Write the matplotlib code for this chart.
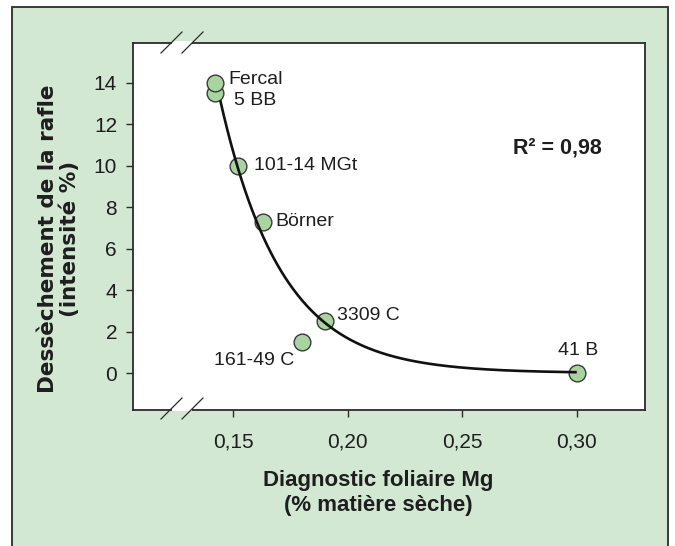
import numpy as np
import matplotlib
matplotlib.use("Agg")
import matplotlib.pyplot as plt
from matplotlib.patches import Rectangle
from matplotlib.lines import Line2D

plt.rcParams['font.family'] = ['Liberation Sans', 'DejaVu Sans']

# Data
cultivars = ["5 BB", "Fercal", "101-14 MGt", "Börner", "3309 C", "161-49 C", "41 B"]
mg = [0.142, 0.142, 0.152, 0.163, 0.190, 0.180, 0.300]
dessechement = [13.5, 14.0, 10.0, 7.3, 2.5, 1.5, 0.0]
# label offsets (points) and alignments
label_offsets = [(13.5, -5.3), (9.9, 1.9), (11.3, 0), (9.1, 0), (8.6, 4.1), (-5.5, -13.2), (0.9, 16.3)]
label_ha = ["left", "left", "left", "left", "left", "right", "center"]

# exponential fit y = A * exp(-k * (x - x0))
fit_A = 10.0
fit_k = 37.0
fit_x0 = 0.1517
fit_xmin, fit_xmax = 0.1443, 0.300
r2_text = "R² = 0,98"

xticks = [0.15, 0.20, 0.25, 0.30]
xticklabels = ["0,15", "0,20", "0,25", "0,30"]
yticks = [0, 2, 4, 6, 8, 10, 12, 14]

W, H = 675, 546
fig = plt.figure(figsize=(W / 100, H / 100), dpi=100)
fig.patch.set_facecolor("white")

green_bg = "#d3e8d3"
edge = "#2b2b2b"
txt = "#1e1e1e"

def fx(px):
    return px / W

def fy(py):
    return 1 - py / H

# outer panel
fig.add_artist(Rectangle((fx(12), fy(560)), fx(668) - fx(12), fy(7) - fy(560),
                         transform=fig.transFigure, facecolor=green_bg,
                         edgecolor=edge, lw=1.3, zorder=-10))

ax = fig.add_axes([fx(133), fy(410), fx(645) - fx(133), fy(43) - fy(410)])
ax.set_facecolor("white")
for s in ax.spines.values():
    s.set_color(edge)
    s.set_linewidth(1.3)

ax.scatter(mg, dessechement, s=145, facecolor="#a8d4a0", edgecolor="#3a3a3a",
           linewidth=1.0, zorder=3)

xs = np.linspace(fit_xmin, fit_xmax, 300)
ys = fit_A * np.exp(-fit_k * (xs - fit_x0))
ax.plot(xs, ys, color="#111111", lw=1.9, zorder=4, solid_capstyle="butt")

for name, x, y, off, ha in zip(cultivars, mg, dessechement, label_offsets, label_ha):
    ax.annotate(name, (x, y), xytext=off, textcoords="offset points",
                ha=ha, va="center", fontsize=14, color=txt, zorder=5)

ax.text(0.272, 10.85, r2_text, ha="left", va="center", fontsize=15.5,
        fontweight="bold", color=txt)

ax.set_xlim(0.1062, 0.3298)
ax.set_ylim(-1.78, 15.91)
ax.set_xticks(xticks)
ax.set_xticklabels(xticklabels)
ax.set_yticks(yticks)
ax.tick_params(axis="x", direction="out", length=5, width=1, color=edge,
               labelsize=15, pad=11, labelcolor=txt)
ax.tick_params(axis="y", direction="out", length=5, width=1, color=edge,
               labelsize=15, pad=6.5, labelcolor=txt)

# axis labels
fig.text(fx(378), fy(493), "Diagnostic foliaire Mg\n(% matière sèche)", ha="center",
         va="center", fontsize=16, fontweight="bold", color=txt,
         linespacing=1.3)
fig.text(fx(59), fy(239), "Dessèchement de la rafle\n(intensité %)", ha="center",
         va="center", rotation=90, fontsize=15.5, fontweight="bold", color=txt,
         linespacing=1.05, family="DejaVu Sans")

# axis break marks
for ytop in (43, 409):
    fig.add_artist(Rectangle((fx(172), fy(ytop + 1.5)), fx(192) - fx(172),
                             fy(ytop - 1.5) - fy(ytop + 1.5),
                             transform=fig.transFigure, facecolor="white",
                             edgecolor="none", zorder=5))
    for x0 in (161, 182):
        fig.add_artist(Line2D([fx(x0), fx(x0 + 21)], [fy(ytop + 10), fy(ytop - 11)],
                              transform=fig.transFigure, color=edge, lw=0.9, zorder=6))

fig.savefig("out.png", dpi=100)
